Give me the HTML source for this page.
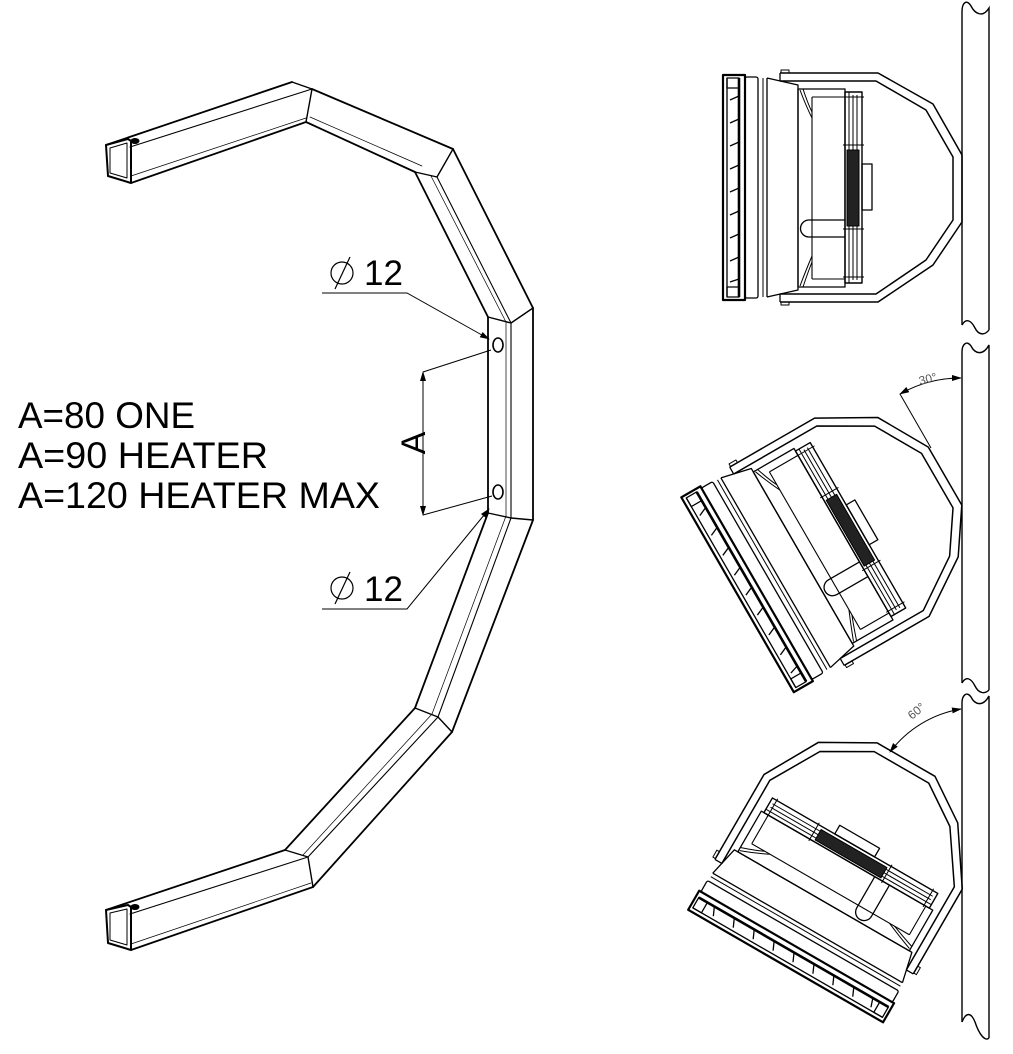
<!DOCTYPE html>
<html><head><meta charset="utf-8"><style>html,body{margin:0;padding:0;background:#fff}svg{display:block}</style></head>
<body>
<svg width="1013" height="1054" viewBox="0 0 1013 1054" xmlns="http://www.w3.org/2000/svg">
<defs>
<marker id="ar" markerWidth="10" markerHeight="6" refX="9" refY="3" orient="auto" markerUnits="userSpaceOnUse"><path d="M0,0 L10,3 L0,6 z" fill="#000"/></marker>
<marker id="as" markerWidth="10" markerHeight="6" refX="1" refY="3" orient="auto" markerUnits="userSpaceOnUse"><path d="M10,0 L0,3 L10,6 z" fill="#000"/></marker>
<g id="heater" fill="none" stroke="#000" stroke-linejoin="round">
 <rect x="723" y="75" width="22" height="225" stroke-width="2.2"/>
 <line x1="727" y1="78" x2="727" y2="297" stroke-width="1.3"/>
 <line x1="739" y1="78" x2="739" y2="297" stroke-width="2.6"/>
 <rect x="727" y="78" width="12" height="10" stroke-width="1.3"/>
 <rect x="727" y="287" width="12" height="10" stroke-width="1.3"/>
 <g stroke-width="1.3">
 <line x1="730" y1="100" x2="739" y2="96"/><line x1="730" y1="123" x2="739" y2="119"/>
 <line x1="730" y1="146" x2="739" y2="142"/><line x1="730" y1="169" x2="739" y2="165"/>
 <line x1="730" y1="192" x2="739" y2="188"/><line x1="730" y1="215" x2="739" y2="211"/>
 <line x1="730" y1="238" x2="739" y2="234"/><line x1="730" y1="261" x2="739" y2="257"/>
 <line x1="730" y1="282" x2="739" y2="279"/>
 </g>
 <rect x="745" y="77" width="13" height="221" rx="2" stroke-width="1.3"/>
 <line x1="763" y1="78" x2="763" y2="297" stroke-width="1"/>
 <line x1="767" y1="78" x2="767" y2="297" stroke-width="1.3"/>
 <path d="M767,78 L798,85 L798,290 L767,297" stroke-width="1.3"/>
 <rect x="798" y="89" width="47" height="198" stroke-width="1.3"/>
 <line x1="812" y1="97" x2="812" y2="279" stroke-width="1.1"/>
 <line x1="812" y1="97" x2="845" y2="97" stroke-width="1.1"/>
 <line x1="812" y1="279" x2="845" y2="279" stroke-width="1.1"/>
 <path d="M800,90 Q806,106 812,118 M803,89 Q808,104 812,112 M800,286 Q806,270 812,256 M803,287 Q808,272 812,262" stroke-width="1"/>
 <path d="M845,220 L809,220 A8.5,8.5 0 0 0 809,237 L845,237" stroke-width="1.3"/>
 <rect x="845" y="92" width="17" height="191" stroke-width="1.4"/>
 <g stroke-width="1"><line x1="849" y1="92" x2="849" y2="283"/><line x1="853" y1="95" x2="853" y2="280"/><line x1="857" y1="95" x2="857" y2="280"/></g>
 <path d="M847,150 L859,150 L859,226 L847,226 z" fill="#222" stroke-width="1"/>
 <g stroke-width="1"><line x1="843" y1="97" x2="864" y2="97"/><line x1="843" y1="145" x2="864" y2="145"/><line x1="843" y1="229" x2="864" y2="229"/><line x1="843" y1="277" x2="864" y2="277"/></g>
 <rect x="862" y="164" width="10" height="46" stroke-width="1.3"/>
 <polyline points="780,73 878,73 933,104 962,155 962,222 933,265 878,302 780,302" stroke-width="1.5"/>
 <polyline points="780,81 876,81 926,110 953,157 953,220 926,260 876,294 780,294" stroke-width="1.5"/>
 <line x1="780" y1="73" x2="780" y2="81" stroke-width="1.3"/>
 <line x1="780" y1="294" x2="780" y2="302" stroke-width="1.3"/>
 <rect x="781" y="70" width="8" height="3" stroke-width="1"/>
 <rect x="781" y="302" width="8" height="3" stroke-width="1"/>
</g>
</defs>

<g fill="none" stroke="#000" stroke-linejoin="round" stroke-linecap="round">
 <path d="M106,145 L128,139 L131,141 L131,183 L108,176 Z" stroke-width="2"/>
 <path d="M110,148 L127,143 L127,178 L110,173 Z" stroke-width="1"/>
 <ellipse cx="135" cy="141" rx="4" ry="2.5" fill="#000" stroke-width="1"/>
 <line x1="106" y1="145" x2="292" y2="82" stroke-width="1.8"/>
 <line x1="130" y1="147" x2="312" y2="89" stroke-width="1.1"/>
 <line x1="131" y1="176" x2="306" y2="118" stroke-width="0.7"/>
 <line x1="131" y1="183" x2="306" y2="122" stroke-width="1.8"/>
 <path d="M292,82 L312,89 L306,122" stroke-width="1.4"/>
 <line x1="312" y1="89" x2="453" y2="149" stroke-width="1.8"/>
 <line x1="310" y1="117" x2="422" y2="166" stroke-width="0.7"/>
 <line x1="306" y1="122" x2="415" y2="172" stroke-width="1.8"/>
 <path d="M453,149 L437,177 L415,172" stroke-width="1.4"/>
 <line x1="453" y1="149" x2="533" y2="308" stroke-width="1.8"/>
 <line x1="437" y1="177" x2="511" y2="323" stroke-width="1.1"/>
 <line x1="431" y1="176" x2="506" y2="322" stroke-width="0.7"/>
 <line x1="415" y1="172" x2="488" y2="317" stroke-width="1.8"/>
 <path d="M488,317 L511,323 L533,308" stroke-width="1.4"/>
 <line x1="533" y1="308" x2="533" y2="520" stroke-width="1.8"/>
 <line x1="511" y1="323" x2="511" y2="518" stroke-width="1.1"/>
 <line x1="506" y1="322" x2="506" y2="516" stroke-width="0.7"/>
 <line x1="488" y1="317" x2="488" y2="513" stroke-width="1.8"/>
 <path d="M488,513 L511,518 L533,520" stroke-width="1.4"/>
 <ellipse cx="498" cy="345" rx="5" ry="7" stroke-width="1.6"/>
 <ellipse cx="498" cy="492" rx="5" ry="7" stroke-width="1.6"/>
 <line x1="533" y1="520" x2="452" y2="732" stroke-width="1.8"/>
 <line x1="511" y1="518" x2="438" y2="717" stroke-width="1.1"/>
 <line x1="506" y1="516" x2="432" y2="714" stroke-width="0.7"/>
 <line x1="488" y1="513" x2="415" y2="708" stroke-width="1.8"/>
 <path d="M415,708 L438,717 L452,732" stroke-width="1.4"/>
 <line x1="452" y1="732" x2="313" y2="887" stroke-width="1.8"/>
 <line x1="438" y1="717" x2="308" y2="857" stroke-width="1.1"/>
 <line x1="432" y1="714" x2="303" y2="855" stroke-width="0.7"/>
 <line x1="415" y1="708" x2="285" y2="850" stroke-width="1.8"/>
 <path d="M285,850 L308,857 L313,887" stroke-width="1.4"/>
 <line x1="285" y1="850" x2="106" y2="910" stroke-width="1.8"/>
 <line x1="308" y1="857" x2="130" y2="914" stroke-width="1.1"/>
 <line x1="311" y1="883" x2="131" y2="944" stroke-width="0.7"/>
 <line x1="313" y1="887" x2="131" y2="950" stroke-width="1.8"/>
 <path d="M106,910 L128,905 L131,907 L131,950 L108,943 Z" stroke-width="2"/>
 <path d="M110,913 L127,909 L127,945 L110,940 Z" stroke-width="1"/>
 <ellipse cx="135" cy="907" rx="4" ry="2.5" fill="#000" stroke-width="1"/>
</g>

<g fill="none" stroke="#000" stroke-width="1">
 <line x1="423" y1="372" x2="423" y2="515" marker-start="url(#as)" marker-end="url(#ar)"/>
 <line x1="423" y1="372" x2="491" y2="350"/>
 <line x1="423" y1="515" x2="492" y2="496"/>
 <polyline points="322,293 407,293 489,339" marker-end="url(#ar)"/>
 <polyline points="322,609 407,609 489,509" marker-end="url(#ar)"/>
 <circle cx="342" cy="273" r="11" stroke-width="1.2"/>
 <line x1="335" y1="289" x2="350" y2="257" stroke-width="1.2"/>
 <circle cx="342" cy="588" r="11" stroke-width="1.2"/>
 <line x1="335" y1="604" x2="350" y2="572" stroke-width="1.2"/>
</g>
<g font-family="Liberation Sans, Arial, sans-serif" fill="#000">
 <text x="364" y="285" font-size="35">12</text>
 <text x="364" y="601" font-size="35">12</text>
 <text transform="translate(416,443) rotate(-90)" font-size="34" text-anchor="middle" dominant-baseline="middle">A</text>
 <text x="18" y="428" font-size="37" textLength="177" lengthAdjust="spacingAndGlyphs">A=80 ONE</text>
 <text x="18" y="468" font-size="37" textLength="250" lengthAdjust="spacingAndGlyphs">A=90 HEATER</text>
 <text x="18" y="508" font-size="37" textLength="362" lengthAdjust="spacingAndGlyphs">A=120 HEATER MAX</text>
</g>

<g fill="none" stroke="#000" stroke-width="1.4">
 <path d="M962,325 L962,12 C962,2 967,-1 971,6 C975,14 983,18 989,8 L989,330"/>
 <path d="M962,325 C966,318 971,320 975,328 C979,336 985,335 989,330"/>
 <path d="M962,683 L962,352 C962,344 967,340 971,346 C975,354 983,356 989,345 L989,690"/>
 <path d="M962,683 C966,676 971,678 975,686 C979,694 985,694 989,690"/>
 <path d="M962,1022 L962,703 C962,695 967,691 971,697 C975,705 983,707 989,696 L989,1038"/>
 <path d="M962,1022 C966,1012 971,1012 975,1022 C979,1034 985,1042 989,1038"/>
</g>

<use href="#heater"/>
<use href="#heater" transform="translate(960,531) rotate(-30) translate(-947.5,-243.5)"/>
<use href="#heater" transform="translate(960,856) rotate(-60) translate(-905.5,-283.5)"/>

<g fill="none" stroke="#000" stroke-width="1">
 <path d="M961,378 A123,123 0 0 0 900,394" marker-start="url(#as)" marker-end="url(#ar)"/>
 <line x1="900" y1="394" x2="931" y2="448"/>
 <path d="M961,709 A112,112 0 0 0 890,752" marker-start="url(#as)" marker-end="url(#ar)"/>
</g>
<g font-family="Liberation Sans, Arial, sans-serif" fill="#555" font-size="12">
 <text transform="translate(920,385) rotate(-14)">30°</text>
 <text transform="translate(912,720) rotate(-40)">60°</text>
</g>
</svg>
</body></html>
